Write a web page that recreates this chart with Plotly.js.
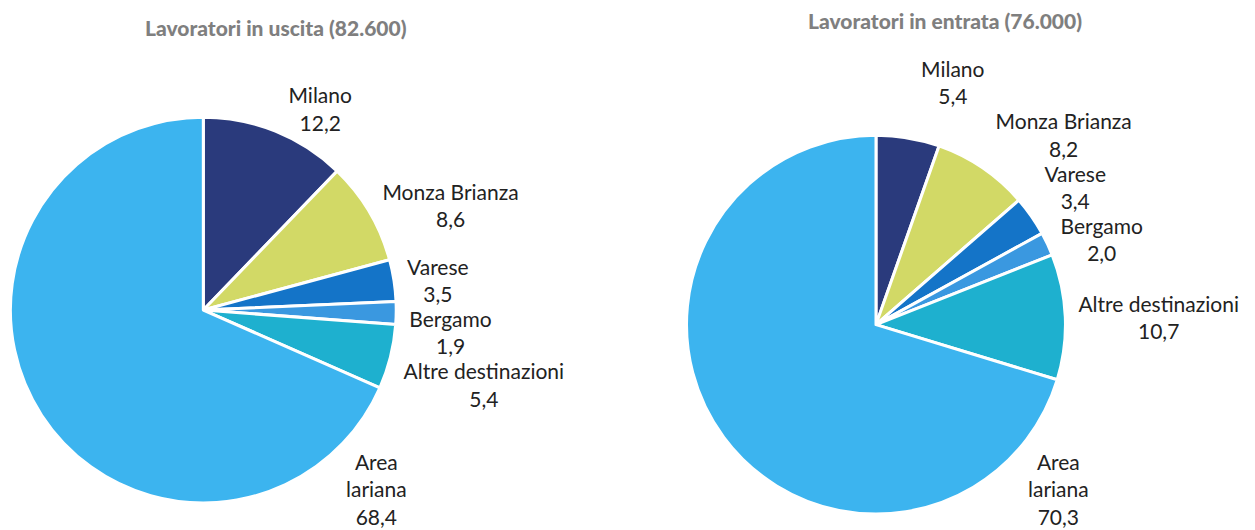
<!DOCTYPE html>
<html>
<head>
<meta charset="utf-8">
<script src="https://cdn.plot.ly/plotly-3.0.1.min.js"></script>
<style>
html,body{margin:0;padding:0;background:#fff;}
#chart{width:1255px;height:530px;}
path.textline{stroke-opacity:0 !important;stroke:none !important;}
</style>
</head>
<body>
<div id="chart"></div>
<script>
const categories = ["Milano", "Monza Brianza", "Varese", "Bergamo", "Altre destinazioni", "Area<br>lariana"];
const uscitaValues = [12.2, 8.6, 3.5, 1.9, 5.4, 68.4];
const entrataValues = [5.4, 8.2, 3.4, 2.0, 10.7, 70.3];
const titles = ["Lavoratori in uscita (82.600)", "Lavoratori in entrata (76.000)"];
const sliceColors = ["#2a3a7c", "#d2d966", "#1474c8", "#3a98e0", "#1eb0cf", "#3cb4ef"];

const labelFont = {family: "Lato, 'Noto Sans', sans-serif", size: 21, color: "#222222"};
const last = categories.length - 1;
const templates = categories.map((c, i) => i === last ? "" : "%{label}<br>%{value:.1f}");
const fmt = v => v.toFixed(1).replace(".", ",");

const common = {
  type: "pie",
  labels: categories,
  sort: false,
  direction: "clockwise",
  rotation: 0,
  textposition: "outside",
  texttemplate: templates,
  textfont: labelFont,
  marker: {colors: sliceColors, line: {color: "#ffffff", width: 3}},
  hoverinfo: "label+value",
  showlegend: false
};

const data = [
  Object.assign({}, common, {values: uscitaValues, domain: {x: [0.008, 0.316], y: [0.051, 0.779]}}),
  Object.assign({}, common, {values: entrataValues, domain: {x: [0.547, 0.849], y: [0.030, 0.745]}})
];

const titleFont = {family: "Lato, 'Noto Sans', sans-serif", size: 21, color: "#7f7f7f", weight: 900};

const layout = {
  width: 1255, height: 530,
  margin: {l: 0, r: 0, t: 0, b: 0},
  paper_bgcolor: "#ffffff",
  separators: ",.",
  annotations: [
    {text: titles[0], x: 276/1255, y: 1 - 28/530, xref: "paper", yref: "paper", showarrow: false, xanchor: "center", yanchor: "middle", font: titleFont},
    {text: titles[1], x: 945/1255, y: 1 - 21/530, xref: "paper", yref: "paper", showarrow: false, xanchor: "center", yanchor: "middle", font: titleFont},
    {text: categories[last] + "<br>" + fmt(uscitaValues[last]), x: 376/1255, y: 1 - 489/530, xref: "paper", yref: "paper", showarrow: false, xanchor: "center", yanchor: "middle", font: labelFont},
    {text: categories[last] + "<br>" + fmt(entrataValues[last]), x: 1058/1255, y: 1 - 489/530, xref: "paper", yref: "paper", showarrow: false, xanchor: "center", yanchor: "middle", font: labelFont}
  ]
};

Plotly.newPlot("chart", data, layout, {displayModeBar: false, staticPlot: true});
</script>
</body>
</html>
